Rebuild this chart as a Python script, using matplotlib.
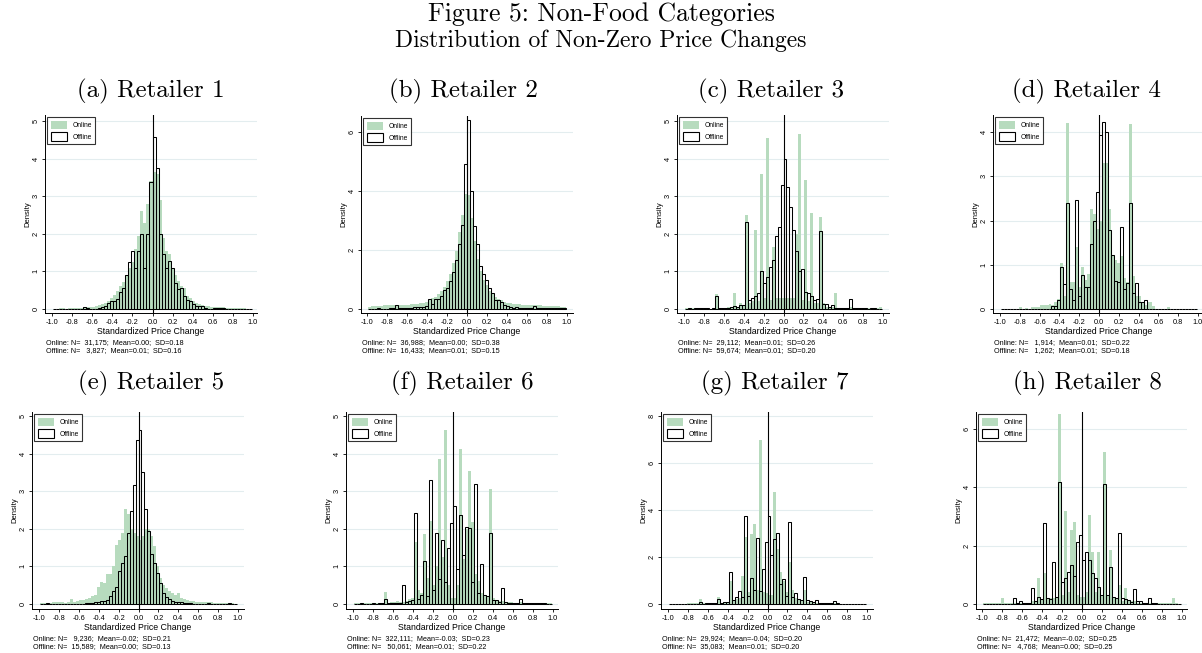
import numpy as np
import matplotlib
matplotlib.use('Agg')
import matplotlib.pyplot as plt
from matplotlib.patches import Patch

plt.rcParams['font.family'] = ['Liberation Sans', 'DejaVu Sans']
plt.rcParams['axes.unicode_minus'] = False

# ---------------- data (densities per bin, bins of width 0.03 on [-0.99, 0.99]) -------------
bin_edges = np.round(np.arange(-33, 34) * 0.03, 4)

panel_titles = ["(a) Retailer 1", "(b) Retailer 2", "(c) Retailer 3", "(d) Retailer 4",
                "(e) Retailer 5", "(f) Retailer 6", "(g) Retailer 7", "(h) Retailer 8"]

online_a = [0, 0, 0.02, 0.02, 0, 0.02, 0.03, 0.03, 0.02, 0.03, 0.04,
            0.05, 0.05, 0.06, 0.08, 0.1, 0.12, 0.15, 0.22, 0.28, 0.38, 0.48,
            0.6, 0.72, 0.9, 1.1, 1.25, 1.6, 1.95, 2.6, 2.3, 2.8, 3.4,
            3.65, 3.6, 2.9, 1.9, 1.55, 1.45, 1.1, 0.9, 0.75, 0.6, 0.55,
            0.35, 0.28, 0.2, 0.15, 0.12, 0.1, 0.08, 0.07, 0.06, 0.06, 0.05,
            0.04, 0.04, 0.03, 0.03, 0.02, 0.02, 0.02, 0.02, 0.02, 0, 0]
offline_a = [0, 0, 0, 0, 0, 0, 0, 0, 0, 0, 0.05,
             0.03, 0, 0, 0.01, 0.03, 0.05, 0.08, 0.17, 0.2, 0.22, 0.27,
             0.45, 0.55, 0.9, 1.25, 1.55, 1.08, 1.55, 2.0, 1.1, 2.0, 3.38,
             4.57, 3.75, 2.0, 1.47, 1.08, 1.28, 1.1, 0.7, 0.53, 0.56, 0.34,
             0.25, 0.2, 0.14, 0.09, 0.09, 0.09, 0.02, 0.01, 0, 0.03, 0.03,
             0.03, 0.03, 0, 0, 0, 0, 0, 0, 0, 0, 0]

online_b = [0.08, 0.1, 0.1, 0.1, 0.1, 0.12, 0.12, 0.12, 0.13, 0.14, 0.14,
            0.14, 0.15, 0.15, 0.16, 0.17, 0.18, 0.2, 0.22, 0.25, 0.3, 0.36,
            0.42, 0.5, 0.6, 0.75, 0.95, 1.2, 1.55, 1.95, 2.6, 3.2, 3.9,
            3.85, 3.1, 2.3, 1.7, 1.3, 1.0, 0.8, 0.6, 0.5, 0.42, 0.34,
            0.3, 0.25, 0.22, 0.2, 0.18, 0.17, 0.16, 0.15, 0.14, 0.14, 0.13,
            0.13, 0.12, 0.12, 0.11, 0.1, 0.1, 0.1, 0.1, 0.09, 0.08, 0.08]
offline_b = [0, 0, 0, 0.03, 0, 0, 0, 0.03, 0.03, 0.12, 0.05,
             0.05, 0.05, 0.05, 0.05, 0.06, 0.08, 0.07, 0.06, 0.09, 0.34, 0.18,
             0.34, 0.34, 0.45, 0.65, 0.71, 0.96, 1.24, 1.65, 2.2, 2.85, 4.9,
             6.4, 4.0, 2.8, 2.2, 1.45, 1.2, 0.97, 0.7, 0.54, 0.32, 0.3,
             0.24, 0.15, 0.1, 0.06, 0.05, 0.06, 0.05, 0.04, 0.04, 0.05, 0.05,
             0.09, 0.05, 0.03, 0.02, 0.02, 0.02, 0.02, 0.02, 0.02, 0.02, 0.04]

online_c = [0.02, 0.02, 0.02, 0, 0.02, 0, 0, 0.02, 0, 0.02, 0.4,
            0.02, 0.03, 0.02, 0.05, 0.05, 0.42, 0.05, 0.17, 0.1, 2.5, 0.15,
            0.2, 2.09, 0.2, 3.58, 0.3, 4.55, 0.25, 1.64, 0.3, 0.3, 0.3,
            0.3, 0.3, 0.3, 0.3, 2.0, 4.65, 0.25, 3.42, 0.2, 2.55, 0.15,
            0.15, 2.46, 0.15, 0.05, 0.05, 0.05, 0.42, 0.03, 0.02, 0.02, 0.02,
            0.05, 0.02, 0.02, 0.02, 0.02, 0.02, 0.02, 0.02, 0.02, 0.02, 0.05]
offline_c = [0, 0.02, 0, 0.02, 0.02, 0.02, 0.02, 0.02, 0, 0.02, 0.35,
             0.02, 0.02, 0.03, 0.03, 0.05, 0.08, 0.05, 0.1, 0.1, 2.32, 0.25,
             0.3, 0.34, 0.42, 1.0, 0.7, 0.85, 1.13, 1.3, 1.93, 2.18, 3.3,
             4.0, 3.25, 2.7, 2.1, 1.55, 1.0, 1.06, 0.45, 0.42, 0.35, 0.25,
             0.27, 2.07, 0.12, 0.12, 0.05, 0.1, 0.03, 0.03, 0.02, 0.02, 0.02,
             0.27, 0.02, 0.02, 0.02, 0.02, 0.02, 0, 0.02, 0.02, 0, 0]

online_d = [0, 0, 0, 0, 0, 0, 0.05, 0, 0.03, 0, 0.05,
            0.05, 0.05, 0.1, 0.08, 0.1, 0.12, 0.1, 0.15, 0.22, 1.05, 0.3,
            4.2, 0.62, 0.6, 1.4, 0.5, 0.96, 0.66, 0.8, 2.27, 2.14, 1.8,
            2.0, 3.3, 3.3, 2.25, 1.2, 1.1, 1.05, 1.2, 0.7, 0.6, 4.17,
            0.74, 0.3, 0.3, 0.15, 0.1, 0.15, 0.15, 0.07, 0, 0, 0,
            0, 0.05, 0, 0, 0, 0, 0, 0, 0, 0, 0]
offline_d = [0, 0, 0, 0, 0, 0, 0, 0, 0, 0, 0,
             0, 0, 0, 0, 0, 0, 0.06, 0.06, 0.2, 0.95, 0.57,
             2.4, 0.45, 0.2, 2.47, 0.3, 0.77, 0.5, 0.5, 1.46, 2.0, 2.65,
             3.93, 4.23, 3.99, 1.79, 1.23, 0.63, 0.62, 1.85, 0.45, 0.58, 2.4,
             0.36, 0.58, 0.15, 0.15, 0.2, 0, 0, 0, 0, 0, 0,
             0, 0, 0, 0, 0, 0, 0, 0, 0, 0, 0]

online_e = [0.02, 0.03, 0.02, 0.03, 0.05, 0.05, 0.04, 0.05, 0.03, 0.06, 0.12,
            0.05, 0.08, 0.1, 0.1, 0.12, 0.15, 0.2, 0.25, 0.46, 0.58, 0.55,
            0.8, 0.8, 1.0, 1.58, 1.7, 1.9, 2.53, 2.4, 2.0, 1.9, 1.8,
            1.7, 1.8, 2.0, 2.0, 1.8, 1.55, 1.0, 0.7, 0.5, 0.42, 0.35,
            0.3, 0.25, 0.28, 0.15, 0.12, 0.1, 0.08, 0.07, 0.06, 0.05, 0.05,
            0.04, 0.05, 0.04, 0.03, 0.03, 0.02, 0.02, 0.02, 0.02, 0.02, 0]
offline_e = [0, 0, 0.02, 0, 0, 0, 0, 0, 0, 0, 0,
             0, 0, 0, 0.01, 0.02, 0.02, 0.03, 0.04, 0.05, 0.07, 0.08,
             0.1, 0.22, 0.34, 0.44, 0.87, 1.08, 1.28, 1.88, 2.47, 3.17, 4.37,
             4.62, 3.5, 2.53, 1.95, 1.33, 1.08, 0.82, 0.55, 0.28, 0.18, 0.13,
             0.09, 0.06, 0.05, 0.04, 0.03, 0.02, 0.02, 0, 0, 0, 0,
             0, 0.02, 0, 0, 0, 0, 0, 0, 0.02, 0, 0]

online_f = [0.02, 0.02, 0.02, 0.02, 0.02, 0.02, 0.02, 0.03, 0.03, 0.03, 0.33,
            0.03, 0.05, 0.05, 0.08, 0.05, 0.06, 0.07, 0.13, 0.15, 1.65, 0.37,
            0.3, 1.85, 0.68, 2.2, 0.5, 1.0, 3.85, 1.25, 4.63, 0.5, 0.15,
            0.15, 0.5, 4.12, 1.2, 2.0, 3.55, 2.17, 0.8, 0.6, 0.3, 0.25,
            0.2, 3.07, 0.15, 0.1, 0.08, 0.07, 0.05, 0.05, 0.04, 0.03, 0.03,
            0.05, 0.03, 0.02, 0.02, 0.02, 0.02, 0.02, 0.02, 0.02, 0.02, 0.03]
offline_f = [0, 0, 0.02, 0, 0, 0.01, 0.02, 0.01, 0.02, 0.02, 0.12,
             0.02, 0.02, 0.02, 0.03, 0.03, 0.5, 0.05, 0.07, 0.1, 2.43, 0.14,
             0.25, 1.14, 0.2, 3.3, 0.38, 1.9, 0.66, 1.7, 0.58, 1.5, 2.15,
             2.6, 0.93, 2.37, 1.29, 2.04, 2.03, 0.58, 3.2, 0.3, 1.07, 0.25,
             0.22, 1.9, 0.1, 0.1, 0.05, 0.42, 0.05, 0.03, 0.03, 0.02, 0.02,
             0.12, 0.02, 0.02, 0.02, 0.02, 0.02, 0.02, 0.02, 0.02, 0, 0]

online_g = [0.02, 0.02, 0.02, 0.02, 0.02, 0.02, 0.03, 0.03, 0.03, 0.04, 0.22,
            0.03, 0.04, 0.05, 0.05, 0.05, 0.3, 0.05, 0.1, 0.1, 1.0, 0.12,
            0.2, 0.25, 1.2, 2.85, 0.5, 3.0, 3.4, 0.6, 7.0, 0.5, 0.45,
            0.4, 0.4, 4.75, 2.35, 1.35, 1.0, 0.5, 1.8, 0.6, 0.25, 0.2,
            0.15, 0.6, 0.1, 0.08, 0.06, 0.06, 0.05, 0.04, 0.03, 0.03, 0.03,
            0.04, 0.03, 0.02, 0.02, 0.02, 0.02, 0.02, 0.02, 0.02, 0.02, 0.02]
offline_g = [0.01, 0.01, 0.01, 0.01, 0.01, 0.01, 0.01, 0.02, 0.02, 0.02, 0.1,
             0.02, 0.03, 0.03, 0.03, 0.05, 0.2, 0.05, 0.07, 0.1, 1.35, 0.15,
             0.3, 0.55, 0.3, 3.75, 0.35, 1.1, 0.58, 2.8, 0.55, 1.5, 2.65,
             3.75, 2.1, 2.75, 3.03, 0.85, 1.05, 0.35, 3.5, 0.3, 0.45, 0.2,
             0.15, 1.17, 0.15, 0.12, 0.08, 0.18, 0.05, 0.05, 0.05, 0.03, 0.03,
             0.12, 0.03, 0.02, 0.02, 0.02, 0.02, 0.02, 0.02, 0.02, 0.02, 0.02]

online_h = [0.03, 0.02, 0.03, 0.03, 0.03, 0.03, 0.2, 0.03, 0.03, 0.03, 0.05,
            0.03, 0.03, 0.03, 0.03, 0.05, 0.1, 0.1, 0.9, 0.15, 1.05, 0.2,
            0.2, 0.2, 0.2, 6.5, 0.3, 3.2, 0.4, 2.53, 2.8, 0.3, 0.25,
            0.25, 0.4, 3.05, 1.8, 0.4, 1.8, 0.3, 5.2, 0.3, 1.85, 0.2,
            0.2, 0.65, 0.1, 0.55, 0.1, 0.1, 0.1, 0.05, 0.03, 0.03, 0.03,
            0.03, 0.03, 0.03, 0.03, 0.03, 0.03, 0.03, 0.03, 0.2, 0.03, 0]
offline_h = [0, 0, 0, 0, 0, 0, 0, 0, 0, 0, 0.2,
             0.05, 0.1, 0.05, 0.03, 0.03, 0.55, 0.1, 0.25, 0.18, 2.77, 0.2,
             0.18, 1.45, 0.25, 4.2, 0.75, 0.9, 1.1, 1.35, 0.95, 2.12, 2.38,
             1.52, 1.8, 1.5, 1.05, 0.9, 0.6, 0.3, 4.12, 0.32, 1.28, 0.25,
             0.2, 2.43, 0.2, 0.18, 0.15, 0.08, 0.5, 0.1, 0.1, 0.05, 0.03,
             0.22, 0.05, 0.03, 0, 0, 0, 0, 0, 0, 0, 0]

online_series = [online_a, online_b, online_c, online_d, online_e, online_f, online_g, online_h]
offline_series = [offline_a, offline_b, offline_c, offline_d, offline_e, offline_f, offline_g, offline_h]

y_ticks = [[0, 1, 2, 3, 4, 5], [0, 2, 4, 6], [0, 1, 2, 3, 4, 5], [0, 1, 2, 3, 4],
           [0, 1, 2, 3, 4, 5], [0, 1, 2, 3, 4, 5], [0, 2, 4, 6, 8], [0, 2, 4, 6]]
x_ticks = [-1.0, -0.8, -0.6, -0.4, -0.2, 0.0, 0.2, 0.4, 0.6, 0.8, 1.0]
x_tick_labels = ["-1.0", "-0.8", "-0.6", "-0.4", "-0.2", "0.0", "0.2", "0.4", "0.6", "0.8", "1.0"]

online_stats = ["Online: N=  31,175;  Mean=0.00;  SD=0.18",
                "Online: N=  36,988;  Mean=0.00;  SD=0.38",
                "Online: N=  29,112;  Mean=0.01;  SD=0.26",
                "Online: N=   1,914;  Mean=0.01;  SD=0.22",
                "Online: N=   9,236;  Mean=-0.02;  SD=0.21",
                "Online: N=  322,111;  Mean=-0.03;  SD=0.23",
                "Online: N=  29,924;  Mean=-0.04;  SD=0.20",
                "Online: N=  21,472;  Mean=-0.02;  SD=0.25"]
offline_stats = ["Offline: N=   3,827;  Mean=0.01;  SD=0.16",
                 "Offline: N=  16,433;  Mean=0.01;  SD=0.15",
                 "Offline: N=  59,674;  Mean=0.01;  SD=0.20",
                 "Offline: N=   1,262;  Mean=0.01;  SD=0.18",
                 "Offline: N=  15,589;  Mean=0.00;  SD=0.13",
                 "Offline: N=   50,061;  Mean=0.01;  SD=0.22",
                 "Offline: N=  35,083;  Mean=0.01;  SD=0.20",
                 "Offline: N=   4,768;  Mean=0.00;  SD=0.25"]

# ---------------- layout (pixel geometry of each panel) ----------------
W, H = 1202, 653
# left spine, right end, px of x=-1, px of x=1, top, bottom axis line, px of y=0, (ref value, ref px)
layout = [
    (45, 257, 52, 253, 115, 313, 309, (5, 121)),
    (361, 573, 367, 567, 116, 313, 309, (6, 132)),
    (677, 889, 684, 883, 115, 313, 309, (5, 121)),
    (993, 1205, 1000, 1198, 115, 313, 309, (4, 132)),
    (32, 244, 39, 238, 412, 609, 604, (5, 416)),
    (346, 558, 353, 553, 412, 609, 604, (5, 416)),
    (661, 873, 668, 867, 412, 609, 604, (8, 416)),
    (976, 1187, 982, 1182, 412, 609, 604, (6, 429)),
]
title_pos = [(151, 91), (463, 91), (771, 91), (1086, 91),
             (151, 383), (462, 383), (775, 383), (1087, 383)]

GREEN = '#b7dbbe'
GRID = '#e3edef'

fig = plt.figure(figsize=(W / 100, H / 100), dpi=100)
serif = ['cmr10', 'DejaVu Serif']

fig.text(601 / W, 1 - 14 / H, "Figure 5: Non-Food Categories", family=serif,
         fontsize=18.5, ha='center', va='center')
fig.text(601 / W, 1 - 41 / H, "Distribution of Non-Zero Price Changes", family=serif,
         fontsize=17, ha='center', va='center')

centers = (bin_edges[:-1] + bin_edges[1:]) / 2
bw = bin_edges[1] - bin_edges[0]

for k in range(8):
    L, R, xm1, xp1, T, B, y0, (rv, rp) = layout[k]
    ax = fig.add_axes([L / W, 1 - B / H, (R - L) / W, (B - T) / H])
    sx = (xp1 - xm1) / 2.0
    ax.set_xlim(-1 - (xm1 - L) / sx, 1 + (R - xp1) / sx)
    sy = (y0 - rp) / rv
    ax.set_ylim(-(B - y0) / sy, (y0 - T) / sy)

    ax.bar(centers, online_series[k], width=bw, color=GREEN, linewidth=0, zorder=2)
    ax.bar(centers, offline_series[k], width=bw, fill=False, edgecolor='black',
           linewidth=0.75, zorder=3)
    ax.axvline(0, color='black', lw=0.8, zorder=4)

    ax.set_yticks(y_ticks[k])
    ax.set_yticklabels([str(v) for v in y_ticks[k]], rotation=90, va='center', fontsize=5.3)
    ax.set_xticks(x_ticks)
    ax.set_xticklabels(x_tick_labels, fontsize=5.3)
    ax.tick_params(direction='out', length=2.5, width=0.6, pad=1.5)
    ax.yaxis.grid(True, color=GRID, lw=0.8)
    ax.set_axisbelow(True)
    for s in ['top', 'right']:
        ax.spines[s].set_visible(False)
    for s in ['left', 'bottom']:
        ax.spines[s].set_linewidth(0.7)
    ax.set_ylabel("Density", fontsize=5.5, labelpad=1)
    ax.set_xlabel("Standardized Price Change", fontsize=6.3, labelpad=1.2)

    handles = [Patch(facecolor=GREEN, edgecolor='none', label='Online'),
               Patch(facecolor='white', edgecolor='black', linewidth=0.8, label='Offline')]
    leg = ax.legend(handles=handles, loc='upper left', fontsize=4.8, frameon=True,
                    fancybox=False, edgecolor='black', borderaxespad=0.35,
                    handlelength=2.4, handleheight=1.6, borderpad=0.5, labelspacing=0.45,
                    handletextpad=0.9)
    leg.get_frame().set_linewidth(0.8)

    tx, ty = title_pos[k]
    fig.text(tx / W, 1 - ty / H, panel_titles[k], family=serif, fontsize=18,
             ha='center', va='center')
    sty = 343 if k < 4 else 639
    fig.text((L + 1) / W, 1 - sty / H, online_stats[k], fontsize=5.2, ha='left', va='center')
    fig.text((L + 1) / W, 1 - (sty + 7.5) / H, offline_stats[k], fontsize=5.2, ha='left', va='center')

fig.savefig('out.png', dpi=100)
